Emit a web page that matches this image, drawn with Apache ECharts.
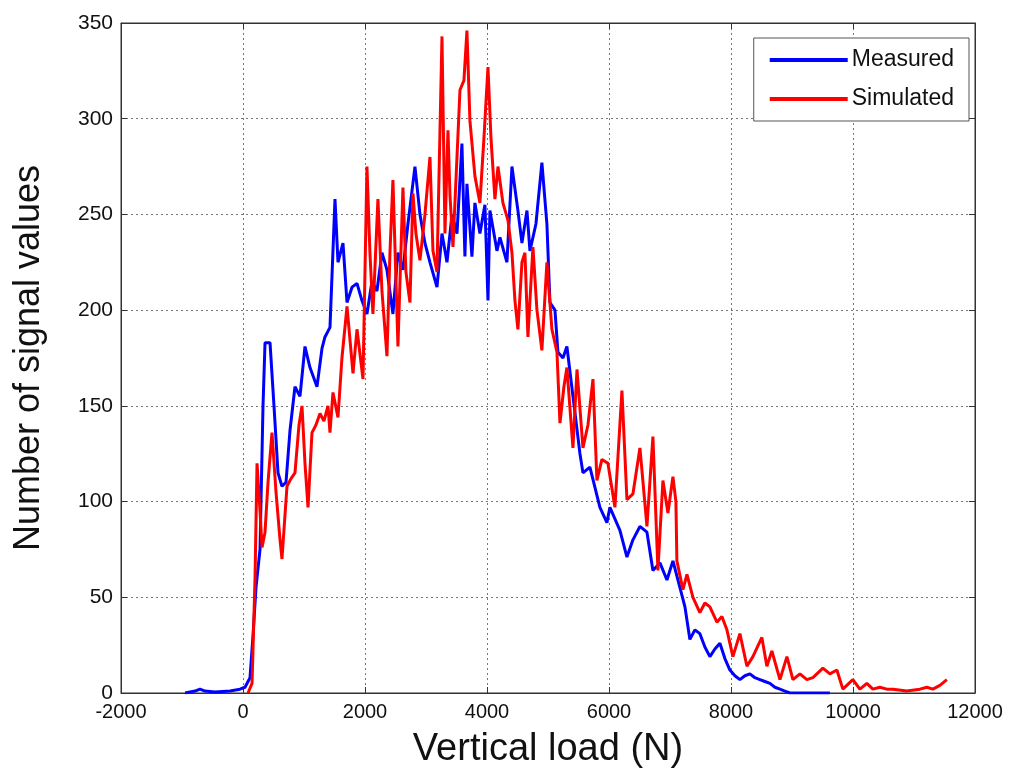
<!DOCTYPE html>
<html>
<head>
<meta charset="utf-8">
<script src="https://cdn.jsdelivr.net/npm/echarts@6/dist/echarts.min.js"></script>
<style>
html,body{margin:0;padding:0;background:#fff;}
#chart{width:1017px;height:775px;}
</style>
</head>
<body>
<div id="chart"></div>
<script>
// Measured series: vertical load (N) and counts
var measuredX = [-950,-787,-705,-623,-459,-213,-49,33,115,164,213,279,328,361,443,508,574,639,705,770,852,934,1016,1098,1213,1295,1344,1426,1508,1557,1639,1705,1787,1869,1950,2032,2114,2196,2278,2360,2458,2540,2622,2704,2819,2901,2983,3065,3180,3262,3344,3426,3508,3589,3638,3671,3753,3802,3884,3966,4016,4048,4163,4212,4327,4409,4507,4573,4655,4704,4802,4900,4982,5032,5114,5163,5245,5310,5409,5524,5573,5687,5851,5966,6015,6179,6294,6392,6507,6622,6720,6835,6950,7048,7163,7245,7326,7408,7490,7572,7654,7736,7818,7900,7982,8064,8146,8228,8310,8392,8474,8556,8638,8720,8802,8884,8966,9293,9621];
var measuredY = [0,1,2,1,0.5,1,2,3,8,30,55,75,150,183,183,150,115,108,110,137,160,155,181,170,160,180,186,191,258,225,235,204,212,214,205,198,215,210,230,221,198,230,221,245,275,250,235,225,212,240,225,250,240,287,228,266,228,256,240,255,205,252,231,238,225,275,252,235,252,231,245,277,245,204,200,178,175,181,155,125,115,118,97,89,97,85,71,80,87,84,64,68,59,69,55,45,28,33,31,24,19,23,26,18,12,9,7,9,10,8,7,6,5,3,2,1,0,0,0];

// Simulated series: vertical load (N) and counts
var simulatedX = [82,148,197,230,279,312,361,410,475,541,607,639,721,787,852,918,967,1016,1066,1131,1196,1262,1327,1393,1426,1475,1557,1622,1705,1803,1869,1967,2032,2081,2130,2212,2278,2360,2409,2458,2540,2622,2671,2737,2786,2835,2901,2983,3065,3114,3180,3262,3311,3360,3393,3442,3508,3557,3622,3671,3720,3802,3884,3950,4016,4065,4130,4180,4261,4343,4409,4458,4507,4573,4622,4671,4753,4819,4900,4982,5064,5147,5196,5261,5310,5409,5475,5573,5655,5737,5802,5884,5982,6097,6212,6294,6392,6507,6622,6720,6802,6884,6966,7048,7097,7113,7212,7278,7376,7490,7572,7654,7769,7851,7933,8031,8146,8261,8359,8506,8588,8670,8802,8917,9015,9130,9244,9343,9507,9621,9736,9834,9998,10113,10227,10326,10440,10555,10654,10883,11096,11211,11309,11424,11539];
var simulatedY = [0,5,60,120,95,76,84,110,136,105,80,70,108,112,115,140,150,120,97,136,140,146,142,150,136,157,144,175,202,167,190,164,275,230,198,258,210,176,230,268,181,264,220,204,261,240,226,250,280,231,220,343,240,294,260,233,280,315,320,346,299,270,256,290,327,290,258,275,256,247,230,205,190,225,230,186,233,200,179,225,190,178,141,160,170,128,169,128,140,164,111,122,120,97,158,101,104,128,87,134,64,111,94,113,100,69,54,62,50,42,47,45,37,40,33,19,31,14,19,29,14,22,7,19,7,10,7,8,13,10,12,2,7,2,5,2,3,2,2,1,2,3,2,4,7];

var xTicks = [-2000,0,2000,4000,6000,8000,10000,12000];
var yTicks = [0,50,100,150,200,250,300,350];
var seriesNames = ['Measured','Simulated'];

function pairs(xs, ys){ var out=[]; for(var i=0;i<xs.length;i++){ out.push([xs[i], ys[i]]); } return out; }
function plain(v){ return String(v); }

var font = '"Liberation Sans", Arial, sans-serif';
var gridLine = {show:true, lineStyle:{color:'#777', width:1, type:[2,3]}};
var tick = {show:true, inside:true, length:6, lineStyle:{color:'#333'}};
var axLine = {show:true, onZero:false, lineStyle:{color:'#333'}};

var chart = echarts.init(document.getElementById('chart'), null, {renderer:'canvas'});
chart.setOption({
  backgroundColor:'#fff',
  animation:false,
  grid:{left:121, right:42, top:23, bottom:82, show:true, borderColor:'#333', borderWidth:1},
  legend:{
    orient:'vertical', right:48, top:38,
    data:seriesNames,
    backgroundColor:'#fff',
    borderColor:'#555', borderWidth:1,
    padding:[10,15,10,16],
    itemWidth:78, itemHeight:4, itemGap:15,
    icon:'rect',
    textStyle:{fontFamily:font, fontSize:23, lineHeight:24, color:'#111', padding:[0,0,0,-1]}
  },
  xAxis:[{
    type:'value', min:xTicks[0], max:xTicks[xTicks.length-1], interval:2000,
    axisLine:axLine, axisTick:tick,
    axisLabel:{fontFamily:font, fontSize:20, color:'#111', margin:9, formatter:plain},
    splitLine:gridLine,
    name:'Vertical load (N)', nameLocation:'middle', nameGap:38,
    nameTextStyle:{fontFamily:font, fontSize:38, color:'#111'}
  },{
    type:'value', position:'top', min:xTicks[0], max:xTicks[xTicks.length-1], interval:2000,
    axisLine:axLine, axisTick:tick,
    axisLabel:{show:false}, splitLine:{show:false}
  }],
  yAxis:[{
    type:'value', min:yTicks[0], max:yTicks[yTicks.length-1], interval:50,
    axisLine:axLine, axisTick:tick,
    axisLabel:{fontFamily:font, fontSize:21, color:'#111', margin:8, formatter:plain},
    splitLine:gridLine,
    name:'Number of signal values', nameLocation:'middle', nameGap:74,
    nameTextStyle:{fontFamily:font, fontSize:36, color:'#111'}
  },{
    type:'value', position:'right', min:yTicks[0], max:yTicks[yTicks.length-1], interval:50,
    axisLine:axLine, axisTick:tick,
    axisLabel:{show:false}, splitLine:{show:false}
  }],
  series:[{
    name:seriesNames[0], type:'line', data:pairs(measuredX, measuredY),
    symbol:'none', lineStyle:{color:'#0000ff', width:3}, itemStyle:{color:'#0000ff'}, z:2
  },{
    name:seriesNames[1], type:'line', data:pairs(simulatedX, simulatedY),
    symbol:'none', lineStyle:{color:'#ff0000', width:3}, itemStyle:{color:'#ff0000'}, z:3
  }]
});
</script>
</body>
</html>
